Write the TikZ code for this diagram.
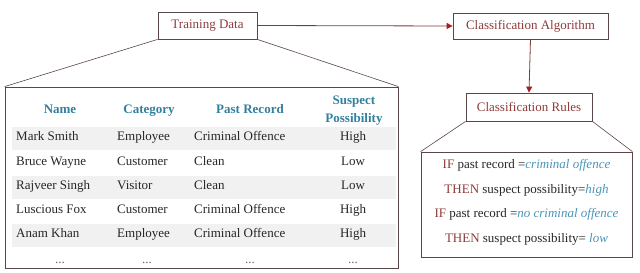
\documentclass[tikz,border=0pt]{standalone}
\usepackage{fontspec}
\setmainfont{Liberation Serif}
\usetikzlibrary{arrows.meta}
\definecolor{boxred}{HTML}{8E3B3B}
\definecolor{hdrblue}{HTML}{31809E}
\definecolor{itblue}{HTML}{4A94B8}
\definecolor{frame}{HTML}{5A4646}
\definecolor{conn}{HTML}{7A3C3C}
\definecolor{tip}{HTML}{A51E1E}
\definecolor{band}{HTML}{F1F1F1}
\tikzset{
  box/.style={draw=frame, line width=0.8pt, inner sep=0pt, text=boxred, font=\fontsize{13}{15}\selectfont},
  frm/.style={draw=frame, line width=0.8pt, inner sep=0pt},
  arr/.style={draw=conn, line width=0.8pt, -{Triangle[length=6pt,width=6pt,color=tip]}},
  flare/.style={draw=frame, line width=0.6pt},
  hdr/.style={text=hdrblue, font=\fontsize{13}{15}\selectfont\bfseries, inner sep=0pt},
  cell/.style={font=\fontsize{13}{15}\selectfont, inner sep=0pt, text=black!85},
  rule/.style={font=\fontsize{13}{15}\selectfont, inner sep=0pt, text=black!85},
}
\newcommand{\kw}[1]{\textcolor{boxred}{#1}}
\newcommand{\iv}[1]{\textcolor{itblue}{\itshape #1}}
\begin{document}
\begin{tikzpicture}[x=1pt,y=-1pt]
\useasboundingbox (0,0) rectangle (640,273);
% boxes
\node[box, minimum width=99pt, minimum height=27pt] (td) at (207.5,25.5) {Training Data};
\node[box, minimum width=155pt, minimum height=26pt] (ca) at (530.5,26) {Classification Algorithm};
\node[box, minimum width=126pt, minimum height=28pt] (cr) at (529,107) {Classification Rules};
% table bands
\fill[band] (12,127) rectangle (396,150);
\fill[band] (12,176) rectangle (396,199);
\fill[band] (12,224) rectangle (396,247);
\node[frm, minimum width=393pt, minimum height=181pt] (tbl) at (201.5,177.5) {};
\node[frm, minimum width=211pt, minimum height=105pt] (rb) at (526.5,204.5) {};
% connectors
\draw[arr] (td.east) -- (ca.west);
\draw[arr] (ca.south) -- (cr.north);
\draw[flare] (td.south west) -- (tbl.north west);
\draw[flare] (td.south east) -- (tbl.north east);
\draw[flare] (cr.south west) -- (rb.north west);
\draw[flare] (cr.south east) -- (rb.north east);
% header
\node[hdr, anchor=base] (h1) at (60,113) {Name};
\node[hdr, anchor=base] (h2) at (149,113) {Category};
\node[hdr, anchor=base] (h3) at (250,113) {Past Record};
\node[hdr, anchor=base] (h4a) at (354,104) {Suspect};
\node[hdr, anchor=base] (h4b) at (354,122) {Possibility};
% rows
\node[cell, anchor=base west] (r1a) at (16,140) {Mark Smith};
\node[cell, anchor=base west] (r1b) at (117,140) {Employee};
\node[cell, anchor=base west] (r1c) at (194,140) {Criminal Offence};
\node[cell, anchor=base] (r1d) at (353,140) {High};
\node[cell, anchor=base west] (r2a) at (16,165) {Bruce Wayne};
\node[cell, anchor=base west] (r2b) at (117,165) {Customer};
\node[cell, anchor=base west] (r2c) at (194,165) {Clean};
\node[cell, anchor=base] (r2d) at (353,165) {Low};
\node[cell, anchor=base west] (r3a) at (16,189.5) {Rajveer Singh};
\node[cell, anchor=base west] (r3b) at (117,189.5) {Visitor};
\node[cell, anchor=base west] (r3c) at (194,189.5) {Clean};
\node[cell, anchor=base] (r3d) at (353,189.5) {Low};
\node[cell, anchor=base west] (r4a) at (16,213.5) {Luscious Fox};
\node[cell, anchor=base west] (r4b) at (117,213.5) {Customer};
\node[cell, anchor=base west] (r4c) at (194,213.5) {Criminal Offence};
\node[cell, anchor=base] (r4d) at (353,213.5) {High};
\node[cell, anchor=base west] (r5a) at (16,237.5) {Anam Khan};
\node[cell, anchor=base west] (r5b) at (117,237.5) {Employee};
\node[cell, anchor=base west] (r5c) at (194,237.5) {Criminal Offence};
\node[cell, anchor=base] (r5d) at (353,237.5) {High};
\node[cell, anchor=base, text=black!60] (r6a) at (60,263) {...};
\node[cell, anchor=base, text=black!60] (r6b) at (147,263) {...};
\node[cell, anchor=base, text=black!60] (r6c) at (250,263) {...};
\node[cell, anchor=base, text=black!60] (r6d) at (353,263) {...};
% rules
\node[rule, anchor=base] (l1) at (526.5,168) {\kw{IF} past record =\iv{criminal offence}};
\node[rule, anchor=base] (l2) at (526.5,193) {\kw{THEN} suspect possibility=\iv{high}};
\node[rule, anchor=base] (l3) at (526.5,217) {\kw{IF} past record =\iv{no criminal offence}};
\node[rule, anchor=base] (l4) at (526.5,242) {\kw{THEN} suspect possibility= \iv{low}};
\end{tikzpicture}
\end{document}
